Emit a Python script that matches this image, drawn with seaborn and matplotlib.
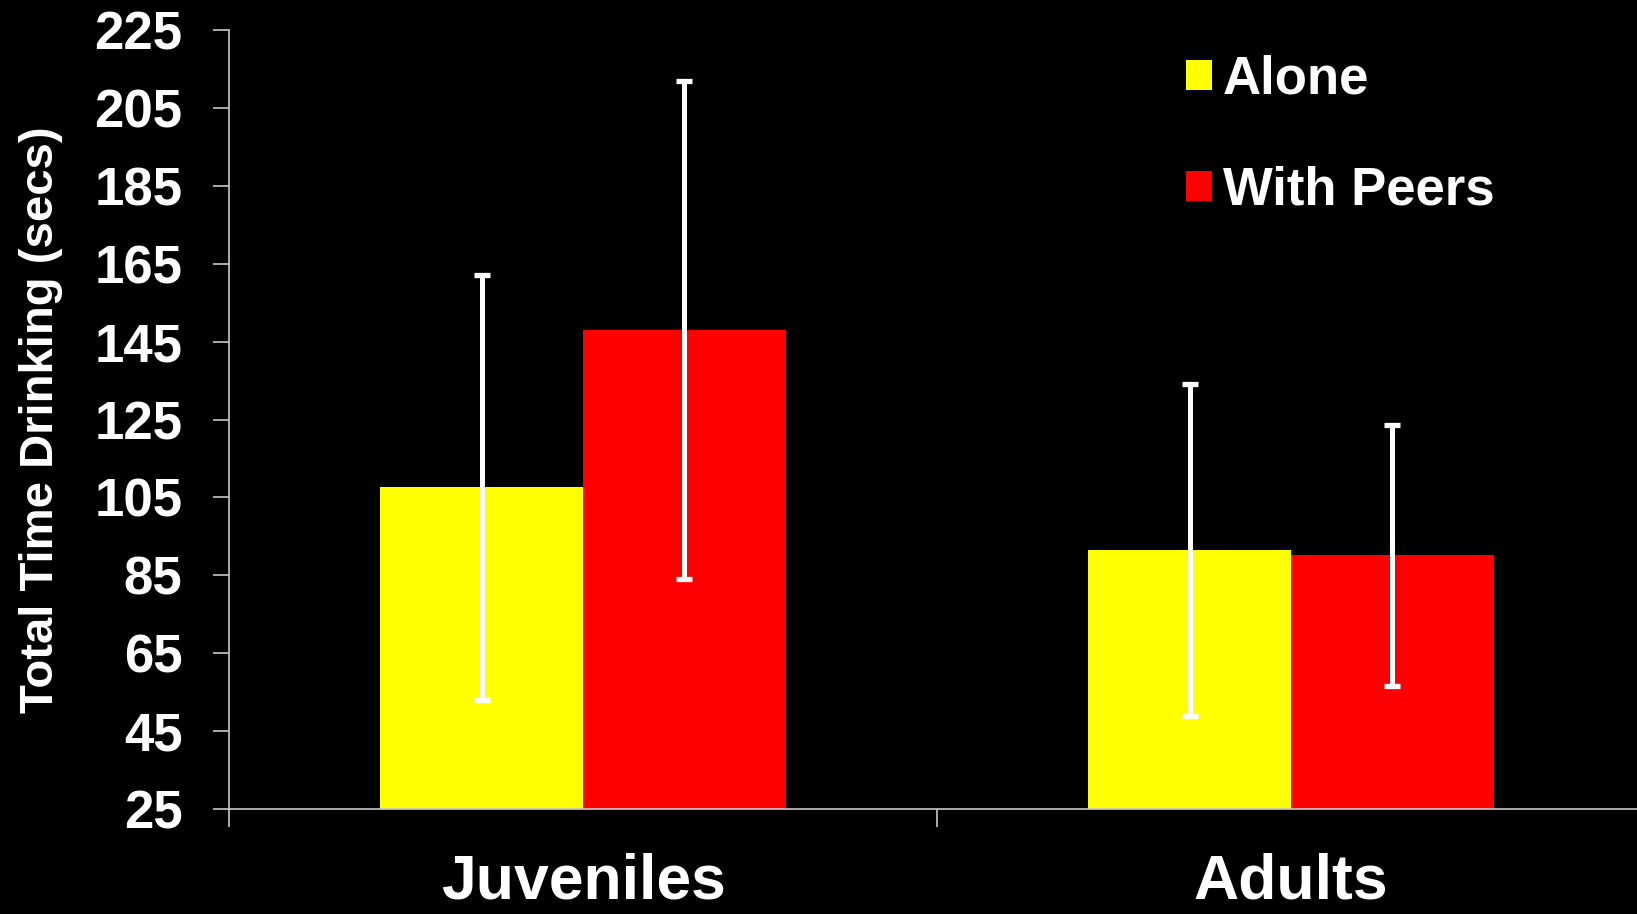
import matplotlib
matplotlib.use("Agg")
import matplotlib.pyplot as plt
import matplotlib.ticker as ticker
import pandas as pd
import seaborn as sns

# values
groups = ["Juveniles", "Adults"]
conditions = ["Alone", "With Peers"]
alone_means = [107.6, 91.5]
peers_means = [148.0, 90.1]
alone_err = [54.6, 42.7]
peers_err = [64.0, 33.5]
y_ticks = [25, 45, 65, 85, 105, 125, 145, 165, 185, 205, 225]

COLORS = {"Alone": "#FFFF00", "With Peers": "#FF0000"}
AXIS_GRAY = "#C8C8C8"

df = pd.DataFrame({
    "group": groups * 2,
    "condition": [conditions[0]] * 2 + [conditions[1]] * 2,
    "time": alone_means + peers_means,
})

sns.set_style("dark", {"axes.facecolor": "black", "figure.facecolor": "black"})
plt.rcParams["font.family"] = ["Liberation Sans", "DejaVu Sans"]
plt.rcParams["font.weight"] = "bold"

fig = plt.figure(figsize=(16.37, 9.14), dpi=100)
fig.patch.set_facecolor("black")
ax = fig.add_axes([229 / 1637, 105 / 914, (1645 - 229) / 1637, 779 / 914])
ax.set_facecolor("black")

sns.barplot(
    data=df, x="group", y="time", hue="condition", order=groups,
    hue_order=conditions, palette=COLORS, width=0.573, saturation=1,
    errorbar=None, linewidth=0, ax=ax,
)

# error bars centred on each bar
for container, errs in zip(ax.containers, [alone_err, peers_err]):
    xs = [b.get_x() + b.get_width() / 2 for b in container]
    ys = [b.get_height() for b in container]
    ax.errorbar(xs, ys, yerr=errs, fmt="none", ecolor="white",
                elinewidth=3.6, capsize=6, capthick=3.8, zorder=5)

# y axis
ax.set_ylim(25, 225)
ax.set_yticks(y_ticks)
ax.tick_params(axis="y", left=True, colors=AXIS_GRAY, length=11.5, width=1.2,
               direction="out", pad=22, labelsize=38, labelcolor="white")
for lbl in ax.get_yticklabels():
    lbl.set_fontweight("bold")
ax.set_ylabel("Total Time Drinking (secs)", fontsize=34, fontweight="bold",
              color="white", va="center")
ax.yaxis.set_label_coords(-0.1328, 0.5)

# x axis: labels at categories, tick marks between them
ax.set_xlim(-0.5, 1.5)
ax.set_xticks([0, 1])
ax.set_xticklabels(groups, fontsize=45, fontweight="bold", color="white")
ax.tick_params(axis="x", which="major", bottom=True, length=0, pad=31)
ax.xaxis.set_minor_locator(ticker.FixedLocator([-0.5, 0.5, 1.5]))
ax.tick_params(axis="x", which="minor", bottom=True, length=13, width=1.2,
               color=AXIS_GRAY, direction="out")
ax.set_xlabel("")

ax.spines[["top", "right"]].set_visible(False)
ax.spines[["left", "bottom"]].set_color(AXIS_GRAY)
ax.spines[["left", "bottom"]].set_linewidth(1.2)
ax.grid(False)

# legend
handles, labels = ax.get_legend_handles_labels()
leg = ax.legend(
    handles, labels, loc="upper left",
    bbox_to_anchor=(1186 / 1637, (914 - 55) / 914),
    bbox_transform=fig.transFigure, frameon=False,
    prop={"size": 38, "weight": "bold"}, labelcolor="white",
    handlelength=0.5, handleheight=0.5, handletextpad=0.2,
    labelspacing=1.15, borderpad=0, borderaxespad=0,
)

fig.savefig("out.png", dpi=100, facecolor="black")
plt.close(fig)
